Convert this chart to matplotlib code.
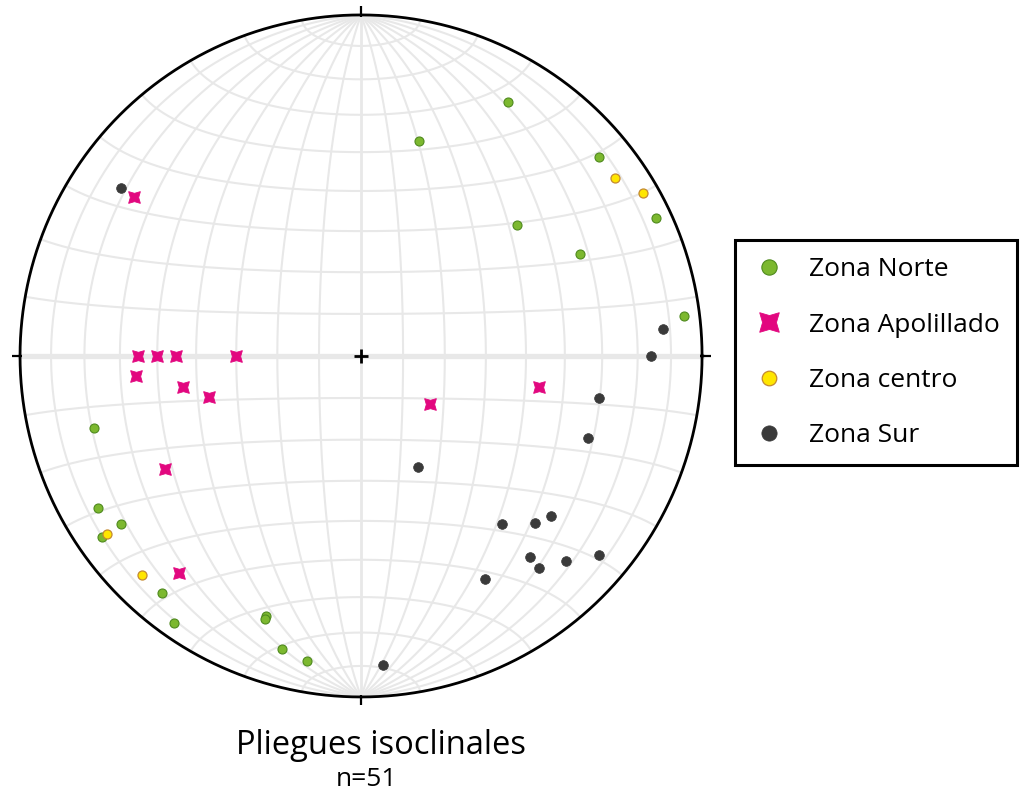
import numpy as np
import matplotlib.pyplot as plt
from matplotlib.lines import Line2D

plt.rcParams['font.family'] = ['Open Sans', 'DejaVu Sans']

norte_trend = [30, 15, 50, 65, 50, 65, 83, 255, 240, 235, 235, 220, 215, 200, 200, 195, 190]
norte_plunge = [15, 35, 10, 5, 40, 30, 5, 20, 12, 15, 8, 10, 5, 20, 19, 12, 10]

apol_trend = [305, 270, 270, 270, 270, 265, 260, 255, 240, 220, 125, 100]
apol_plunge = [20, 35, 40, 45, 60, 34, 46, 52, 34, 18, 70, 46]

centro_trend = [55, 60, 235, 225]
centro_plunge = [10, 5, 10, 10]

sur_trend = [305, 85, 90, 100, 110, 153, 140, 134, 130, 140, 140, 135, 130, 151, 176]
sur_plunge = [15, 12, 16, 30, 30, 60, 36, 30, 28, 24, 20, 16, 10, 26, 10]

labels = ["Zona Norte", "Zona Apolillado", "Zona centro", "Zona Sur"]
titulo = "Pliegues isoclinales"
n_txt = "n=51"


def schmidt(trend, plunge):
    # proyeccion de igual area (red de Schmidt), hemisferio inferior
    t = np.radians(np.asarray(trend, float))
    p = np.radians(np.asarray(plunge, float))
    r = np.sqrt(2) * np.sin((np.pi / 2 - p) / 2)
    return r * np.sin(t), r * np.cos(t)


def proj(e, n, d):
    return e / np.sqrt(1 + d), n / np.sqrt(1 + d)


fig = plt.figure(figsize=(10.21, 7.96), dpi=100)
ax = fig.add_axes([6.4 / 1021, 85.4 / 796, 709.3 / 1021, 709.3 / 796])
ax.set_xlim(-1.04, 1.04)
ax.set_ylim(-1.04, 1.04)
ax.axis('off')

grid_c = '#e8e8e8'
t = np.linspace(0, np.pi, 400)

# circulos maximos (rumbo N-S)
for dip in range(10, 90, 10):
    d = np.radians(dip)
    for s in (1, -1):
        e = np.sin(t) * np.cos(d) * s
        n = np.cos(t)
        z = np.sin(t) * np.sin(d)
        x, y = proj(e, n, z)
        ax.plot(x, y, color=grid_c, lw=1.5, zorder=1)

# circulos menores (eje N-S)
for a in range(10, 90, 10):
    al = np.radians(a)
    for s in (1, -1):
        e = np.sin(al) * np.cos(t)
        n = np.full_like(t, np.cos(al)) * s
        z = np.sin(al) * np.sin(t)
        x, y = proj(e, n, z)
        ax.plot(x, y, color=grid_c, lw=1.5, zorder=1)

ax.plot([0, 0], [-1, 1], color=grid_c, lw=2, zorder=1)
ax.plot([-1, 1], [0, 0], color='#e8e8e8', lw=3.8, zorder=1)

# primitiva y marcas
phi = np.linspace(0, 2 * np.pi, 721)
ax.plot(np.cos(phi), np.sin(phi), color='black', lw=2, zorder=3)
for ang in (0, 90, 180, 270):
    a = np.radians(ang)
    ax.plot([np.sin(a) * 0.995, np.sin(a) * 1.025], [np.cos(a) * 0.995, np.cos(a) * 1.025],
            color='black', lw=1.6, zorder=3, solid_capstyle='butt', clip_on=False)
ax.plot(0, 0, marker='+', ms=10, mew=2, color='black', zorder=3)

estilos = [
    dict(marker='o', ms=6.5, mfc='#7cb82f', mec='#4f8a1e', mew=0.8),
    dict(marker=(4, 1, 45), ms=12, mfc='#e2077f', mec='#e2077f', mew=0.6),
    dict(marker='o', ms=6.5, mfc='#ffe600', mec='#c48a30', mew=0.9),
    dict(marker='o', ms=7, mfc='#3a3a3a', mec='#3a3a3a', mew=0.5),
]
datos = [(norte_trend, norte_plunge), (apol_trend, apol_plunge),
         (centro_trend, centro_plunge), (sur_trend, sur_plunge)]

for (tr, pl), st in zip(datos, estilos):
    x, y = schmidt(tr, pl)
    ax.plot(x, y, ls='none', zorder=4, clip_on=False, **st)

# leyenda
tam_ley = [11, 20, 10.5, 11]
handles = []
for st, ms in zip(estilos, tam_ley):
    h = dict(st)
    h['ms'] = ms
    handles.append(Line2D([], [], ls='none', **h))

leg = fig.legend(handles, labels, loc='upper left',
                 bbox_to_anchor=(735 / 1021, 556 / 796), borderaxespad=0,
                 frameon=True, fancybox=False, edgecolor='black', framealpha=1,
                 fontsize=19, labelspacing=1.15, handlelength=1.3,
                 handletextpad=0.85, borderpad=0.65)
leg.get_frame().set_linewidth(2.2)

fig.text(381 / 1021, 1 - 746 / 796, titulo, ha='center', va='center', fontsize=23.5)
fig.text(366 / 1021, 1 - 779 / 796, n_txt, ha='center', va='center', fontsize=19)

fig.savefig('out.png', dpi=100)
